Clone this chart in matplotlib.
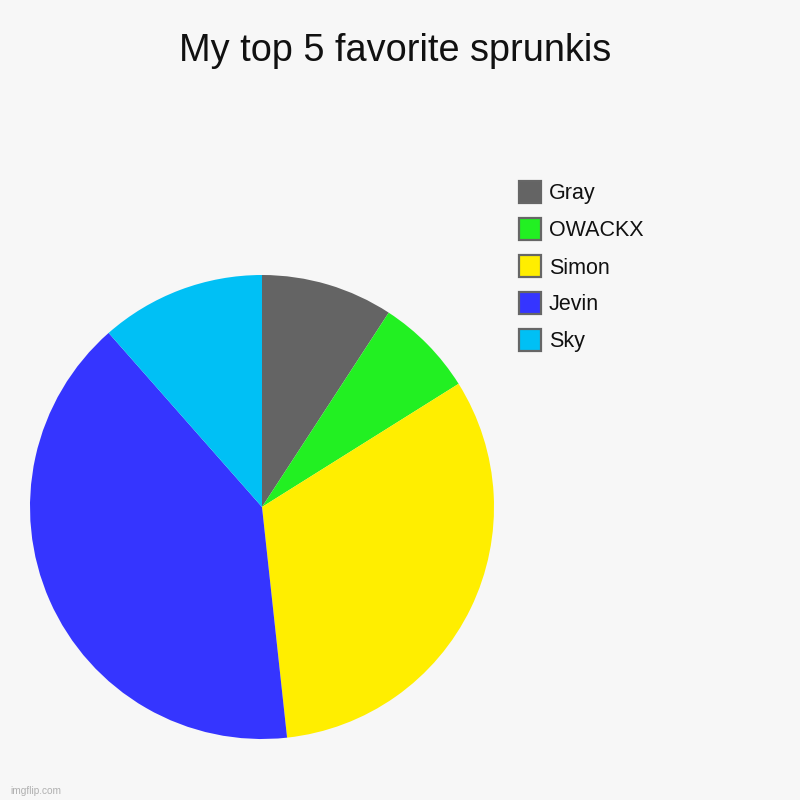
import matplotlib
matplotlib.use("Agg")
import matplotlib.pyplot as plt
from matplotlib.patches import Rectangle

plt.rcParams["font.family"] = ["Liberation Sans", "DejaVu Sans"]

labels = ["Gray", "OWACKX", "Simon", "Jevin", "Sky"]
values = [8, 6, 28, 35, 10]
colors = ["#646464", "#22f022", "#ffee00", "#3535ff", "#00c0f5"]
BG = "#f7f7f7"

fig = plt.figure(figsize=(8, 8), dpi=100, facecolor=BG)
ax = fig.add_axes([0.0375, 0.07625, 0.58, 0.58])
ax.set_facecolor(BG)
ax.pie(values, colors=colors, startangle=90, counterclock=False,
       radius=1.0, wedgeprops=dict(linewidth=0))
ax.set_xlim(-1, 1); ax.set_ylim(-1, 1)
ax.set_aspect("equal")
ax.axis("off")

fig.text(0.494, 1 - 51 / 800, "My top 5 favorite sprunkis", ha="center", va="center",
         fontsize=27.3, color="#111111")

# legend drawn by hand to match the row spacing
for i, (lab, col) in enumerate(zip(labels, colors)):
    yc = 192 + 37 * i
    fig.patches.append(Rectangle((519 / 800, 1 - (yc + 11) / 800), 22 / 800, 22 / 800,
                                 transform=fig.transFigure, facecolor=col,
                                 edgecolor="#666666", linewidth=1.6))
    fig.text(549 / 800, 1 - (yc + 2) / 800, lab, ha="left", va="center",
             fontsize=15.5, color="#111111")

fig.text(10 / 800, 1 - 791 / 800, "imgflip.com", ha="left", va="center",
         fontsize=7.3, color="#b0b0b0")

fig.savefig("out.png", dpi=100, facecolor=BG)
